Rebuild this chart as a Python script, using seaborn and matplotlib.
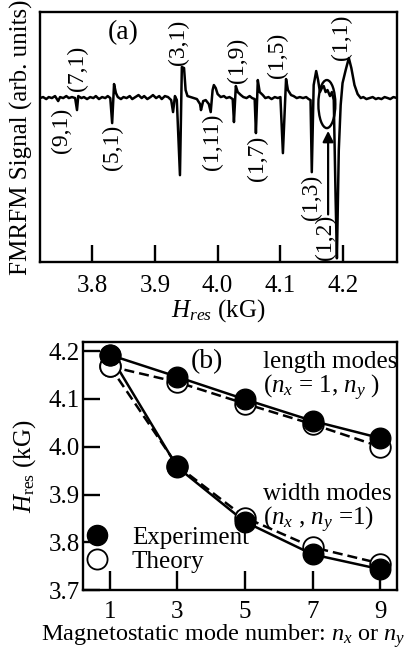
import numpy as np
import pandas as pd
import matplotlib
matplotlib.use('Agg')
import matplotlib.pyplot as plt
import seaborn as sns
from matplotlib.patches import Ellipse
from matplotlib.lines import Line2D

# (a) FMRFM trace, field in kG, signal in arb. units
field = [3.717, 3.722, 3.727, 3.731, 3.736, 3.741, 3.744, 3.746, 3.749, 3.754,
         3.759, 3.763, 3.768, 3.773, 3.776, 3.778, 3.783, 3.787, 3.792, 3.797,
         3.802, 3.806, 3.811, 3.816, 3.821, 3.825, 3.829, 3.832, 3.835, 3.838,
         3.841, 3.846, 3.850, 3.855, 3.860, 3.864, 3.869, 3.874, 3.879, 3.883,
         3.888, 3.893, 3.897, 3.902, 3.907, 3.911, 3.916, 3.921, 3.926, 3.929,
         3.932, 3.935, 3.940, 3.943, 3.9465, 3.949, 3.952, 3.957, 3.962, 3.967,
         3.972, 3.9735, 3.977, 3.981, 3.986, 3.989, 3.992, 3.994, 3.997, 4.000,
         4.005, 4.010, 4.014, 4.019, 4.024, 4.026, 4.029, 4.032, 4.037, 4.041,
         4.046, 4.051, 4.055, 4.059, 4.061, 4.064, 4.067, 4.072, 4.076, 4.081,
         4.086, 4.091, 4.096, 4.100, 4.104, 4.109, 4.112, 4.117, 4.121, 4.126,
         4.131, 4.136, 4.141, 4.145, 4.148, 4.150, 4.153, 4.157, 4.160, 4.163,
         4.166, 4.169, 4.172, 4.175, 4.179, 4.182, 4.185, 4.188, 4.190, 4.193,
         4.196, 4.199, 4.204, 4.209, 4.213, 4.218, 4.223, 4.228, 4.232, 4.237,
         4.242, 4.247, 4.252, 4.256, 4.261, 4.266, 4.271, 4.275, 4.280, 4.286]
signal = [0, 1, -1, 1, 0, 2, -1, -3, 1, 0,
          2, 0, 1, 0, -12, 2, 0, 1, -1, 1,
          0, 2, -1, 1, 0, 2, 0, -25, 14, 5,
          1, -1, 1, 0, 2, -1, 1, 3, 0, 2,
          -1, 1, 3, 0, 2, -1, 2, 1, -2, -14,
          2, -2, -77, 31, 30, 8, 2, 1, 0, -1,
          -6, -12, -3, -2, -6, -14, 8, 13, 10, 4,
          1, 2, 0, 1, -1, -24, 12, 6, 3, 1,
          0, 2, 0, -1, -35, 18, 6, 3, 0, 1,
          -1, 1, 0, 1, -55, 19, 8, 3, 2, 0,
          1, 0, 1, -1, -2, -74, 13, 27, 18, 6,
          10, 12, 6, 8, 2, 6, -2, -102, -160, -52,
          -7, 15, 28, 40, 30, 13, 4, 0, 1, -1,
          0, 1, -1, 0, -1, 1, 0, -1, 1, 0]

mode_labels = ['(9,1)', '(7,1)', '(5,1)', '(3,1)', '(1,11)', '(1,9)',
               '(1,7)', '(1,5)', '(1,3)', '(1,2)', '(1,1)']
label_field = [3.752, 3.776, 3.832, 3.937, 3.991, 4.031, 4.063, 4.096, 4.150, 4.171, 4.198]
label_signal = [-32, 30, -49, 56, -44, 38, -60, 43, -99, -139, 61]

# (b) resonance field vs mode number
mode_n = [1, 3, 5, 7, 9]
exp_length = [4.192, 4.146, 4.099, 4.054, 4.018]
exp_width = [4.192, 3.957, 3.843, 3.775, 3.744]
th_length = [4.168, 4.135, 4.090, 4.047, 4.000]
th_width = [4.168, 3.960, 3.852, 3.790, 3.756]

sns.set_theme(style='ticks')
plt.rcParams['font.family'] = ['Liberation Serif', 'DejaVu Serif']
plt.rcParams['mathtext.fontset'] = 'custom'
plt.rcParams['mathtext.rm'] = 'Liberation Serif'
plt.rcParams['mathtext.it'] = 'Liberation Serif:italic'
plt.rcParams['axes.linewidth'] = 1.7
plt.rcParams['axes.edgecolor'] = 'black'
plt.rcParams['text.color'] = 'black'
plt.rcParams['axes.labelcolor'] = 'black'
plt.rcParams['xtick.color'] = 'black'
plt.rcParams['ytick.color'] = 'black'

fig = plt.figure(figsize=(4.12, 6.64), dpi=100)
ax1 = fig.add_axes([0.097, 0.605, 0.867, 0.377])
ax2 = fig.add_axes([0.201, 0.111, 0.763, 0.374])

# ---- panel (a)
trace = pd.DataFrame({'H': field, 'S': signal})
sns.lineplot(data=trace, x='H', y='S', ax=ax1, color='black', lw=1.8,
             estimator=None, sort=False)
ax1.set_xlim(3.717, 4.286)
ax1.set_ylim(-164, 86)
ax1.set_xticks([3.8, 3.9, 4.0, 4.1, 4.2])
ax1.set_xticklabels(['3.8', '3.9', '4.0', '4.1', '4.2'])
ax1.set_yticks([])
ax1.tick_params(axis='x', direction='in', length=12, width=1.7, pad=9, labelsize=18)
ax1.set_xlabel('$H_{res}$ (kG)', fontsize=18, labelpad=0)
ax1.set_ylabel('FMRFM Signal (arb. units)', fontsize=18, labelpad=5)

for lab, hx, sy in zip(mode_labels, label_field, label_signal):
    ax1.text(hx, sy, lab, rotation=90, ha='center', va='center', fontsize=17)
ax1.text(3.849, 65, '(a)', ha='center', va='center', fontsize=20)

ax1.add_patch(Ellipse((4.174, -6), 0.027, 48, fill=False, ec='black', lw=1.7))
ax1.annotate('', xy=(4.176, -30), xytext=(4.176, -119),
             arrowprops=dict(arrowstyle='-|>', color='black', lw=1.6, mutation_scale=16))

# ---- panel (b)
sns.lineplot(x=mode_n, y=th_length, ax=ax2, color='black', lw=1.8, linestyle=(0, (4, 2)))
sns.lineplot(x=mode_n, y=th_width, ax=ax2, color='black', lw=1.8, linestyle=(0, (4, 2)))
sns.lineplot(x=mode_n, y=exp_length, ax=ax2, color='black', lw=1.8)
sns.lineplot(x=mode_n, y=exp_width, ax=ax2, color='black', lw=1.8)
sns.scatterplot(x=mode_n + mode_n, y=th_length + th_width, ax=ax2, s=220,
                facecolor='white', edgecolor='black', linewidth=1.3, zorder=3)
sns.scatterplot(x=mode_n + mode_n, y=exp_length + exp_width, ax=ax2, s=220,
                color='black', edgecolor='black', linewidth=1.0, zorder=4)

ax2.set_xlim(0.2, 9.5)
ax2.set_ylim(3.7, 4.219)
ax2.set_xticks(mode_n)
ax2.set_yticks([3.7, 3.8, 3.9, 4.0, 4.1, 4.2])
ax2.set_yticklabels(['3.7', '3.8', '3.9', '4.0', '4.1', '4.2'])
ax2.tick_params(axis='x', direction='in', length=14, width=1.7, pad=8, labelsize=18)
ax2.tick_params(axis='y', direction='in', length=12, width=1.7, pad=2, labelsize=18)
ax2.set_xlabel('Magnetostatic mode number: $n_x$ or $n_y$', fontsize=17.5, labelpad=0)
ax2.xaxis.set_label_coords(0.447, -0.13)
ax2.set_ylabel(r'$H_{\rm res}$ (kG)', fontsize=18, labelpad=8)

ax2.text(3.87, 4.177, '(b)', ha='center', va='center', fontsize=20)
ax2.text(5.53, 4.177, 'length modes', ha='left', va='center', fontsize=18)
ax2.text(5.53, 4.122, '($n_x$ = 1, $n_y$ )', ha='left', va='center', fontsize=18)
ax2.text(5.53, 3.902, 'width modes', ha='left', va='center', fontsize=18)
ax2.text(5.53, 3.846, '($n_x$ , $n_y$ =1)', ha='left', va='center', fontsize=18)

handles = [Line2D([], [], ls='none', marker='o', ms=14.5, mfc='black', mec='black'),
           Line2D([], [], ls='none', marker='o', ms=14.5, mfc='white', mec='black', mew=1.3)]
ax2.legend(handles, ['Experiment', 'Theory'], loc='lower left', bbox_to_anchor=(0.005, 0.07),
           frameon=False, fontsize=18, handlelength=1.0, handletextpad=0.9,
           borderpad=0, borderaxespad=0, labelspacing=0.05)

fig.savefig('out.png', dpi=100)
